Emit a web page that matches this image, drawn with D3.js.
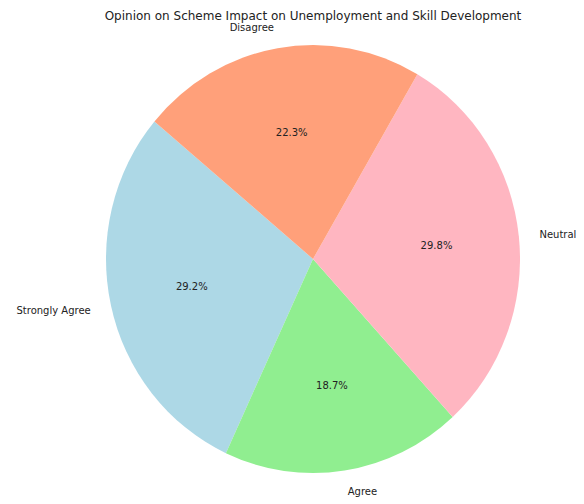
<!DOCTYPE html>
<html lang="en">
<head>
  <meta charset="UTF-8">
  <title>Opinion on Scheme Impact</title>
  <script src="https://d3js.org/d3.v7.min.js"></script>
  <style>
    body { margin: 0; background: #fff; }
    text { font-family: "DejaVu Sans", sans-serif; fill: #222; }
  </style>
</head>
<body>
<script>
const labels = ['Strongly Agree', 'Agree', 'Neutral', 'Disagree'];
const values = [29.2, 18.7, 29.8, 22.3];
const colors = ['#add8e6', '#90ee90', '#ffb6c1', '#ffa07a'];

const width = 584, height = 504;
const cx = 313, cy = 259, rx = 207, ry = 214;
const startDeg = 140; // matplotlib-style start angle, counterclockwise

const svg = d3.select('body').append('svg')
  .attr('width', width)
  .attr('height', height);

svg.append('text')
  .attr('x', cx)
  .attr('y', 20)
  .attr('text-anchor', 'middle')
  .style('font-size', '12px')
  .text('Opinion on Scheme Impact on Unemployment and Skill Development');

const toRad = d => d * Math.PI / 180;
const a0 = toRad(90 - startDeg);
const pie = d3.pie().sort(null).startAngle(a0).endAngle(a0 - 2 * Math.PI);
const arcs = pie(values);

const arc = d3.arc().innerRadius(0).outerRadius(rx);

const g = svg.append('g')
  .attr('transform', `translate(${cx},${cy}) scale(1,${ry / rx})`);

g.selectAll('path')
  .data(arcs)
  .enter().append('path')
  .attr('d', arc)
  .attr('fill', (d, i) => colors[i]);

// mid angle in d3 convention (clockwise from 12 o'clock)
const mid = d => (d.startAngle + d.endAngle) / 2;
const px = (d, k) => cx + k * rx * Math.sin(mid(d));
const py = (d, k) => cy - k * ry * Math.cos(mid(d));
const total = d3.sum(values);

svg.selectAll('.lbl')
  .data(arcs)
  .enter().append('text')
  .attr('class', 'lbl')
  .attr('x', d => px(d, 1.1))
  .attr('y', d => py(d, 1.1))
  .attr('dy', '0.35em')
  .attr('text-anchor', d => Math.sin(mid(d)) > 0 ? 'start' : 'end')
  .style('font-size', '10px')
  .text((d, i) => labels[i]);

svg.selectAll('.pct')
  .data(arcs)
  .enter().append('text')
  .attr('class', 'pct')
  .attr('x', d => px(d, 0.6))
  .attr('y', d => py(d, 0.6))
  .attr('dy', '0.35em')
  .attr('text-anchor', 'middle')
  .style('font-size', '10px')
  .text(d => (d.value / total * 100).toFixed(1) + '%');
</script>
</body>
</html>
